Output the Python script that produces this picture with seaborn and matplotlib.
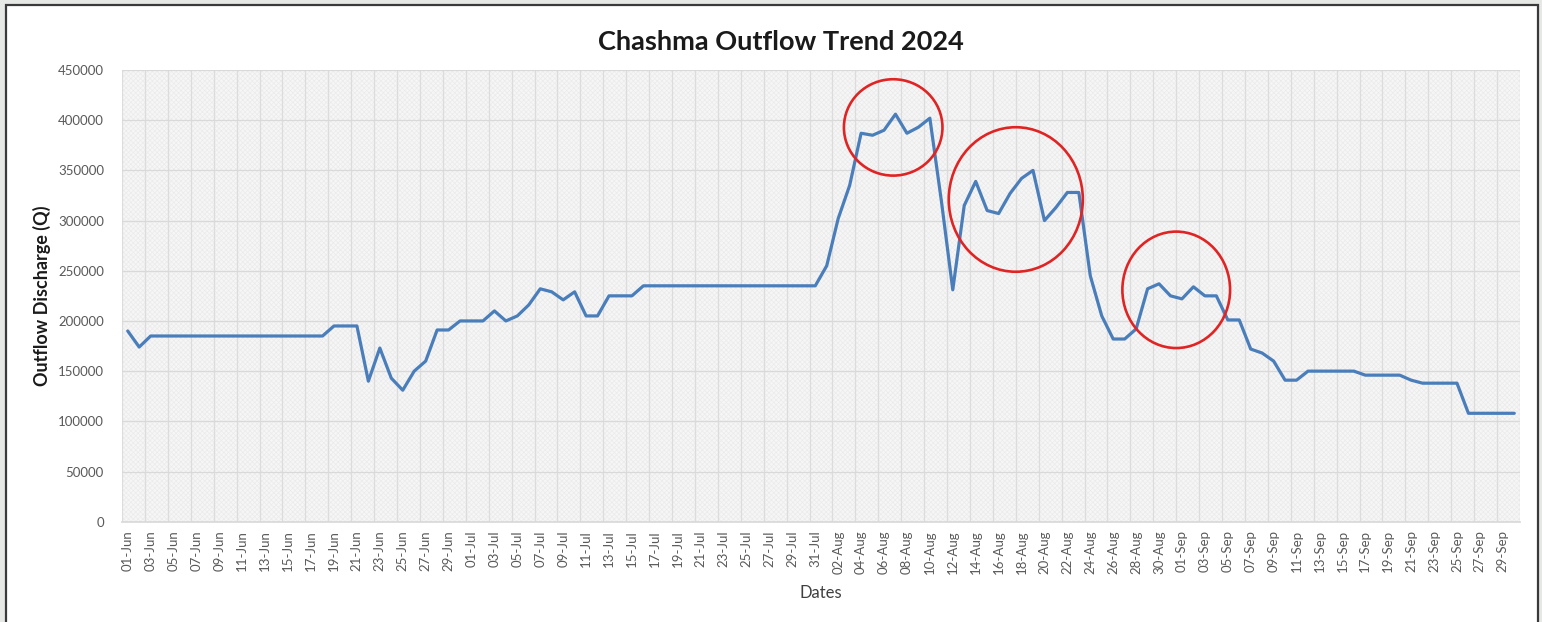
import numpy as np
import pandas as pd
import matplotlib
matplotlib.use('Agg')
import matplotlib.pyplot as plt
from matplotlib.patches import Rectangle, Ellipse
import seaborn as sns

# daily dates 01-Jun .. 30-Sep 2024
dates = pd.date_range('2024-06-01', '2024-09-30', freq='D')
date_labels = [d.strftime('%d-%b') for d in dates]

outflow_jun = [190000, 174000] + [185000] * 16 + [195000, 195000, 195000,
               140000, 173000, 143000, 131000, 150000, 160000, 191000, 191000, 200000]
outflow_jul = [200000, 200000, 210000, 200000, 205000, 216000, 232000, 229000,
               221000, 229000, 205000, 205000, 225000, 225000, 225000] + [235000] * 16
outflow_aug = [255000, 302000, 335000, 387000, 385000, 390000, 406000, 387000,
               393000, 402000, 320000, 231000, 315000, 339000, 310000, 307000,
               327000, 342000, 350000, 300000, 313000, 328000, 328000, 245000,
               205000, 182000, 182000, 192000, 232000, 237000, 225000]
outflow_sep = [222000, 234000, 225000, 225000, 201000, 201000, 172000, 168000,
               160000, 141000, 141000, 150000, 150000, 150000, 150000, 150000,
               146000, 146000, 146000, 146000, 141000, 138000, 138000, 138000,
               138000, 108000, 108000, 108000, 108000, 108000]
outflow = outflow_jun + outflow_jul + outflow_aug + outflow_sep

# highlighted periods (centre day index, centre value, width in days, height in Q)
highlights = [(66.8, 392800, 8.6, 96000),
              (77.5, 321000, 11.7, 144000),
              (91.5, 231000, 9.4, 116000)]

df = pd.DataFrame({'idx': np.arange(len(outflow)), 'Outflow': outflow})

sns.set_theme(style='white')
plt.rcParams['font.family'] = ['Lato', 'DejaVu Sans']
plt.rcParams['hatch.linewidth'] = 0.5

fig = plt.figure(figsize=(15.42, 6.22), dpi=100)
fig.patch.set_facecolor('#e6e8e6')
fig.patches.append(Rectangle((6 / 1542, -0.05), 1532 / 1542, 1.05 - 5 / 622,
                             transform=fig.transFigure, facecolor='white',
                             edgecolor='#3a3a3a', linewidth=1.6, zorder=-10))
ax = fig.add_axes([122 / 1542, 1 - 521.7 / 622, 1398 / 1542, 451.7 / 622])
ax.set_facecolor('#f6f6f6')
ax.add_patch(Rectangle((0, 0), 1, 1, transform=ax.transAxes, facecolor='none',
                       edgecolor='#ebebeb', hatch='xxxxxxx', linewidth=0, zorder=0))

sns.lineplot(data=df, x='idx', y='Outflow', ax=ax, color='#4a7ebb', linewidth=2.3, zorder=3)

for cx, cy, w, h in highlights:
    ax.add_patch(Ellipse((cx, cy), w, h, facecolor='none', edgecolor='#e02424',
                         linewidth=1.9, zorder=4))

ax.set_xlim(-0.5, len(outflow) - 0.5)
ax.set_ylim(0, 450000)
ax.set_yticks(np.arange(0, 450001, 50000))
ax.set_xticks(np.arange(0, len(outflow), 2))
ax.set_xticklabels(date_labels[::2], rotation=90)
ax.set_xticks(np.arange(-0.5, len(outflow), 2), minor=True)
ax.tick_params(axis='both', which='major', labelsize=9.5, labelcolor='#595959', length=0)
ax.tick_params(axis='y', which='major', pad=13)
ax.tick_params(axis='x', which='major', pad=6)
ax.tick_params(axis='x', which='minor', length=0)
ax.grid(False)
ax.grid(axis='y', which='major', color='#d9d9d9', linewidth=0.9, zorder=1)
ax.grid(axis='x', which='minor', color='#dcdcdc', linewidth=0.9, zorder=1)
for side in ['top', 'right', 'left']:
    ax.spines[side].set_visible(False)
ax.spines['bottom'].set_color('#d9d9d9')

ax.set_xlabel('')
ax.set_ylabel('')
fig.text(781 / 1542, 1 - 42 / 622, 'Chashma Outflow Trend 2024', ha='center', va='center',
         fontsize=19.5, fontweight='bold', color='#1a1a1a')
fig.text(42 / 1542, 1 - 296 / 622, 'Outflow Discharge (Q)', ha='center', va='center',
         rotation=90, fontsize=13, fontweight='bold', color='#1a1a1a')
fig.text(821 / 1542, 1 - 593 / 622, 'Dates', ha='center', va='center',
         fontsize=12, color='#404040')

fig.savefig('out.png', dpi=100)
